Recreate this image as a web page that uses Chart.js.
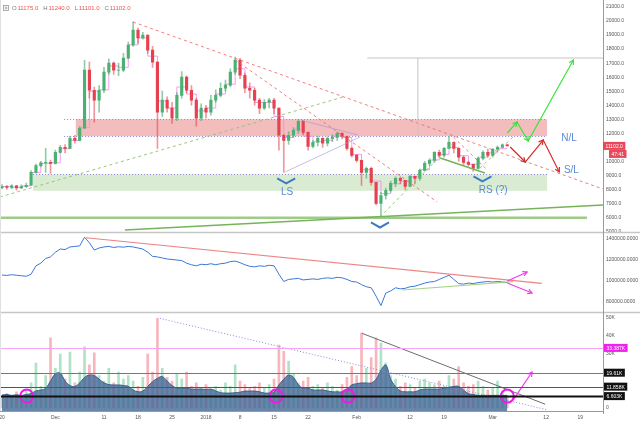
<!DOCTYPE html>
<html>
<head>
<meta charset="utf-8">
<script src="https://cdn.jsdelivr.net/npm/chart.js@4.4.1/dist/chart.umd.min.js"></script>
<style>
  html, body { margin: 0; padding: 0; background: #fff; }
  #wrap { position: relative; width: 640px; height: 422px; }
</style>
</head>
<body>
<div id="wrap"><canvas id="btcChart" width="640" height="422"></canvas></div>
<script>
/* ====== DATA (one candle per day, day 0 = Nov 20 2017) ====== */
const firstOpen = 8100;
const closes = [
  8200, 8150, 8250, 8100, 8200, 8300, 9220, 9700, 9900, 9930,
  9860, 10640, 11000, 10930, 11640, 11500, 12360, 16500, 15070, 14360,
  15070, 16360, 17000, 16500, 16500, 17360, 18290, 19360, 18790, 19000,
  17930, 17070, 13500, 14360, 13790, 13070, 14700, 16000, 15070, 14360,
  13070, 13790, 13500, 14360, 14700, 15210, 15430, 16360, 17210, 16140,
  15210, 15070, 14360, 13790, 14210, 14360, 13790, 11860, 11500, 11860,
  12210, 12860, 12070, 11070, 11360, 11640, 11290, 11640, 11710, 12000,
  11790, 10930, 10430, 10070, 9220, 9500, 8500, 7000, 7570, 7930,
  8430, 8790, 8640, 8210, 8930, 8790, 9360, 9860, 10070, 10640,
  10430, 10930, 11360, 10930, 10290, 9930, 9790, 9500, 10210, 10640,
  10430, 10860, 11000, 11175, 11102
];
const highs = [
  8350, 8300, 8350, 8300, 8320, 8450, 9350, 9800, 10000, 10930,
  10100, 10800, 11150, 11200, 11800, 11850, 12500, 17200, 17070, 15300,
  15400, 16700, 17300, 17100, 17000, 17700, 18500, 19950, 19500, 19200,
  19000, 18200, 17100, 15000, 14600, 14200, 14900, 16400, 16100, 15400,
  14500, 14100, 14000, 14700, 15100, 15600, 15800, 16600, 17430, 17350,
  16300, 15600, 15200, 14500, 14400, 14500, 14500, 13800, 11900, 12100,
  12400, 13000, 12900, 12100, 11500, 11800, 11700, 11750, 11900, 12100,
  12050, 11800, 11000, 10500, 10100, 9600, 9600, 8500, 7800, 8100,
  8600, 8900, 8900, 8650, 9000, 8950, 9450, 10000, 10200, 10700,
  10800, 11000, 11790, 11400, 10950, 10400, 10000, 9800, 10300, 10750,
  10870, 10920, 11100, 11250, 11240
];
const lows = [
  8050, 8000, 8050, 7950, 8050, 8150, 8300, 9150, 9600, 9220,
  9140, 9800, 10600, 10600, 10900, 11300, 11450, 12360, 14500, 12790,
  13500, 14900, 16200, 16200, 16100, 16400, 17300, 18200, 18400, 18700,
  17700, 16700, 10930, 13200, 13500, 12700, 12900, 14500, 14900, 14000,
  12500, 12900, 13100, 13300, 14200, 14600, 15000, 15300, 16200, 15900,
  14900, 14500, 14000, 13400, 13700, 13800, 13400, 10790, 9220, 11200,
  11700, 12000, 11900, 10800, 10950, 11100, 11000, 11100, 11400, 11500,
  11600, 10800, 10300, 9950, 8290, 8800, 8300, 6900, 6000, 7300,
  7800, 8200, 8400, 8000, 8200, 8400, 8650, 9300, 9700, 9900,
  10300, 10300, 10900, 10600, 10000, 9700, 9650, 9290, 9450, 10100,
  10300, 10300, 10800, 10950, 11101
];

// lagging step line (pink) drawn over the candles, every second day
const maDays = [
  0, 2, 4, 6, 8, 10, 12, 14, 16, 18, 20, 22, 24, 26, 28, 30, 32, 34, 36, 38,
  40, 42, 44, 46, 48, 50, 52, 54, 56, 58, 60, 62, 64, 66, 68, 70, 72, 74, 76, 78,
  80, 82, 84, 86, 88, 90, 92, 94, 96, 98, 100, 102, 104
];
const maValues = [
  8150, 8200, 8150, 8250, 9200, 9850, 9900, 10900, 11500, 12400,
  15000, 15100, 16800, 16700, 18300, 18800, 17500, 14300, 13800, 15300,
  14800, 13600, 13800, 14800, 15500, 16600, 15300, 14200, 14200, 13200,
  11700, 12300, 11800, 11400, 11500, 11800, 11700, 10500, 9400, 8600,
  7700, 8400, 8600, 8900, 9400, 10100, 10500, 11000, 10400, 9800,
  10300, 10600, 10900
];

// middle pane indicator, in thousands
const flowK = [
  1052, 1048, 1055, 1050, 1045, 1040, 1060, 1140, 1165, 1210,
  1225, 1270, 1300, 1295, 1320, 1325, 1330, 1413, 1360, 1290,
  1310, 1320, 1325, 1315, 1322, 1318, 1325, 1320, 1310, 1300,
  1270, 1230, 1225, 1215, 1205, 1200, 1195, 1190, 1165, 1150,
  1140, 1155, 1150, 1160, 1150, 1160, 1165, 1180, 1185, 1170,
  1150, 1135, 1130, 1140, 1135, 1145, 1140, 1060, 990, 1010,
  1015, 1020, 1005, 1010, 1015, 1010, 1020, 1025, 1020, 1030,
  1025, 1010, 990, 985, 960, 940, 930, 850, 760, 880,
  900, 930, 920, 925, 940, 945, 960, 975, 985, 990,
  1010, 1030, 1050, 1010, 970, 965, 975, 970, 980, 985,
  990, 985, 990, 985, 980
];

// bottom pane: volume (K) and its smoothed average (K)
const volumes = [
  6, 8, 7, 9, 6, 10, 14, 25, 12, 18,
  39, 22, 30, 16, 31, 14, 20, 34, 24, 30.7,
  18, 15, 22, 14, 20, 16, 18, 15, 12, 17,
  30, 20, 49.8, 22, 17, 15, 19, 16, 20, 12,
  14, 11, 13, 10, 12, 10, 14, 12, 24, 15,
  13, 11, 12, 14, 11, 13, 16, 35, 31.5, 26,
  19, 14, 15, 17, 12, 13, 11, 14, 12, 10,
  13, 17, 23, 18, 41.7, 22, 28, 39, 36, 25,
  18, 16, 12, 14, 13, 11, 15, 16, 14, 13,
  15, 12, 18, 16, 23, 14, 12, 13, 15, 12,
  10, 11, 15, 9, 6
];
const volAvg = [
  7.2, 7.5, 7, 7.3, 7, 7.5, 8, 9.5, 10, 11,
  15, 19, 19.3, 15, 12.5, 12, 14, 17, 18.3, 18,
  16, 14, 13, 12.8, 12.8, 12.5, 12, 10, 9, 9.5,
  12, 14.6, 16.5, 17.4, 15, 12.5, 11, 11, 11, 10.5,
  10.5, 10.5, 10.3, 10.5, 9.5, 8.5, 8.3, 8.3, 8.5, 8.8,
  9.4, 9.4, 9.4, 9, 8.3, 8.3, 8.8, 12.8, 16, 18.3,
  17, 13, 11, 11, 10, 10, 10, 9.5, 9, 9,
  9, 10.5, 12.8, 13.5, 13.9, 13.9, 13.9, 16, 21, 23.9,
  16, 12, 9.5, 9, 9, 9, 10, 10.5, 10.5, 10.5,
  10.5, 11, 11.5, 12, 12, 10, 8, 7.5, 7, 7,
  7, 7, 7, 7, 7
];
const volLevels = [33.387, 19.61, 11.858, 6.603];
const volLevelLabels = ['33.387K', '19.61K', '11.858K', '6.603K'];

const xTickDays = [0, 11, 21, 28, 35, 42, 49, 56, 63, 73, 84, 91, 101, 112, 119];
const xTickLabels = ['20', 'Dec', '11', '18', '25', '2018', '8', '15', '22', 'Feb', '12', '19', 'Mar', '12', '19'];
const priceTicks = [5000, 6000, 7000, 8000, 9000, 10000, 11000, 12000, 13000, 14000, 15000, 16000, 17000, 18000, 19000, 20000, 21000];
const flowTicks = [800, 1000, 1200, 1400];
const volTicks = [0, 30, 40, 50];

const lastBar = { o: 11175.0, h: 11240.0, l: 11101.0, c: 11102.0, countdown: '47:41' };

/* ====== DRAWINGS (day, value) ====== */
const FONT = "'Liberation Sans', Arial, sans-serif";
const STYLES = {
  redDash:   { color: 'rgba(236,104,104,0.85)', width: 1, dash: [3, 3] },
  greenDash: { color: 'rgba(140,195,110,0.9)', width: 1, dash: [3, 3] },
  green:     { color: '#76b35a', width: 1.5 },
  greenBar:  { color: '#9fcb88', width: 2.5 },
  lavender:  { color: 'rgba(165,145,215,0.6)', width: 1 },
  grayThin:  { color: '#c4c4c4', width: 1 },
  zoneDot:   { color: '#8f86d8', width: 1, dash: [1, 2] },
  arrowUp:   { color: '#3ee23e', width: 1.2 },
  arrowDown: { color: '#d72b2b', width: 1.2 },
  flowRed:   { color: 'rgba(232,110,110,0.85)', width: 1.2 },
  flowGreen: { color: 'rgba(160,205,130,0.9)', width: 1.2 },
  magenta:   { color: '#f03cf0', width: 1.2 },
  volDot:    { color: '#8a8ad6', width: 1, dash: [1, 2] },
  volGray:   { color: '#6d6d6d', width: 1 }
};
const priceZones = [
  { from: 15.2, to: 112.2, lo: 11800, hi: 13000, fill: 'rgba(228,108,108,0.45)', dotFrom: 12.8, dotLo: true },
  { from: 6.4, to: 112.2, lo: 7900, hi: 9070, fill: 'rgba(150,198,128,0.35)', dotFrom: 6.4, dotLo: false }
];
const priceLines = [
  { pts: [[27, 19930], [123.7, 8030]], style: 'redDash' },
  { pts: [[48, 17224], [89.6, 7104]], style: 'redDash' },
  { pts: [[92.9, 11736], [99.9, 9384]], style: 'redDash' },
  { pts: [[-0.4, 7460], [70.2, 14587]], style: 'greenDash' },
  { pts: [[77.8, 6035], [92.9, 11308]], style: 'greenDash' },
  { pts: [[98.4, 9527], [105.2, 11736]], style: 'greenDash' },
  { pts: [[90.2, 10239], [99.4, 9170]], style: 'green' },
  { pts: [[58.3, 9242], [73.7, 11736]], style: 'lavender' },
  { pts: [[61.4, 12948], [73.3, 11879]], style: 'lavender' },
  { pts: [[-0.4, 5985], [120.4, 5985]], style: 'greenBar' },
  { pts: [[25.3, 5108], [123.7, 6890]], style: 'green' },
  { pts: [[85.6, 17366], [85.6, 11807]], style: 'grayThin' },
  { pts: [[75.2, 17366], [123.7, 17366]], style: 'grayThin' }
];
const priceArrows = [
  { pts: [[104.0, 12021], [106.0, 12805], [108.3, 11451], [117.6, 17224]], style: 'arrowUp' },
  { pts: [[104.6, 11023], [107.7, 9954], [111.4, 11522], [114.7, 9242]], style: 'arrowDown' }
];
const priceTexts = [
  { text: 'N/L', at: [116.7, 11643] },
  { text: 'S/L', at: [117.2, 9357] },
  { text: 'LS', at: [58.7, 7786] },
  { text: 'RS (?)', at: [101.1, 7929] }
];
const chevrons = [[58.5, 8786], [98.9, 8928], [77.8, 5643]];
const flowLines = [
  { pts: [[17.3, 1408], [111.1, 973]], style: 'flowRed' },
  { pts: [[82.4, 909], [105.2, 988]], style: 'flowGreen' }
];
const flowArrows = [
  { pts: [[104.0, 995], [108.1, 1081]], style: 'magenta' },
  { pts: [[104.0, 976], [109.1, 880]], style: 'magenta' }
];
const volLines = [
  { pts: [[32.5, 49.8], [112.4, -1.1]], style: 'volDot' },
  { pts: [[74.1, 41.5], [111.8, 2.1]], style: 'volGray' }
];
const volArrows = [{ pts: [[105.2, 4.4], [109.1, 20.0]], style: 'magenta' }];
const volCircles = [5.1, 56.4, 71.2, 104.0];

/* ====== HELPERS ====== */
const days = closes.map((_, i) => i);
const opens = closes.map((c, i) => i === 0 ? firstOpen : closes[i - 1]);
const isUp = closes.map((c, i) => c >= opens[i]);

function strokePath(ctx, pts, style) {
  ctx.strokeStyle = style.color;
  ctx.lineWidth = style.width;
  ctx.setLineDash(style.dash || []);
  ctx.beginPath();
  pts.forEach(([px, py], i) => i ? ctx.lineTo(px, py) : ctx.moveTo(px, py));
  ctx.stroke();
}

function arrowHead(ctx, [x0, y0], [x1, y1], size) {
  const ang = Math.atan2(y1 - y0, x1 - x0);
  ctx.setLineDash([]);
  ctx.beginPath();
  ctx.moveTo(x1 - size * Math.cos(ang - 0.5), y1 - size * Math.sin(ang - 0.5));
  ctx.lineTo(x1, y1);
  ctx.lineTo(x1 - size * Math.cos(ang + 0.5), y1 - size * Math.sin(ang + 0.5));
  ctx.stroke();
}

function clipPanel(ctx, area, scale) {
  ctx.beginPath();
  ctx.rect(area.left, scale.top, area.right - area.left, scale.bottom - scale.top);
  ctx.clip();
}

function tag(ctx, x, yc, text, bg) {
  ctx.font = `5px ${FONT}`;
  const w = ctx.measureText(text).width + 5;
  ctx.fillStyle = bg;
  ctx.fillRect(x, yc - 4, w, 8);
  ctx.fillStyle = '#fff';
  ctx.textAlign = 'left';
  ctx.textBaseline = 'middle';
  ctx.fillText(text, x + 2.5, yc + 0.5);
}

/* ====== PLUGIN: zones, trend lines, labels ====== */
const drawings = {
  id: 'drawings',
  beforeDatasetsDraw(chart) {
    const { ctx, chartArea: a, scales: { x, yP } } = chart;
    ctx.save();
    clipPanel(ctx, a, yP);
    priceZones.forEach(z => {
      const x0 = x.getPixelForValue(z.from), x1 = x.getPixelForValue(z.to);
      const y0 = yP.getPixelForValue(z.hi), y1 = yP.getPixelForValue(z.lo);
      ctx.fillStyle = z.fill;
      ctx.fillRect(x0, y0, x1 - x0, y1 - y0);
      const xd = x.getPixelForValue(z.dotFrom);
      strokePath(ctx, [[xd, Math.round(y0) + 0.5], [x1, Math.round(y0) + 0.5]], STYLES.zoneDot);
      if (z.dotLo) strokePath(ctx, [[xd, Math.round(y1) + 0.5], [x1, Math.round(y1) + 0.5]], STYLES.zoneDot);
    });
    ctx.restore();
  },
  afterDatasetsDraw(chart) {
    const { ctx, chartArea: a, scales: { x, yP, yI, yV } } = chart;
    const map = s => ([d, v]) => [x.getPixelForValue(d), s.getPixelForValue(v)];

    const panels = [
      [yP, priceLines, priceArrows],
      [yI, flowLines, flowArrows],
      [yV, volLines, volArrows]
    ];
    panels.forEach(([s, lines, arrows]) => {
      ctx.save();
      clipPanel(ctx, a, s);
      lines.forEach(l => strokePath(ctx, l.pts.map(map(s)), STYLES[l.style]));
      arrows.forEach(ar => {
        const pts = ar.pts.map(map(s));
        strokePath(ctx, pts, STYLES[ar.style]);
        for (let i = 1; i < pts.length; i++) arrowHead(ctx, pts[i - 1], pts[i], 5);
      });
      ctx.restore();
    });

    // chevrons and pattern labels
    ctx.save();
    clipPanel(ctx, a, yP);
    ctx.strokeStyle = '#3b7cc6';
    ctx.lineWidth = 2;
    ctx.setLineDash([]);
    chevrons.forEach(c => {
      const [cx, cy] = map(yP)(c);
      ctx.beginPath();
      ctx.moveTo(cx - 9, cy);
      ctx.lineTo(cx, cy + 5);
      ctx.lineTo(cx + 9, cy);
      ctx.stroke();
    });
    ctx.font = `10px ${FONT}`;
    ctx.fillStyle = '#5b8ad6';
    ctx.textAlign = 'center';
    ctx.textBaseline = 'middle';
    priceTexts.forEach(t => {
      const [tx, ty] = map(yP)(t.at);
      ctx.fillText(t.text, tx, ty);
    });
    ctx.restore();

    // circles on the volume base line
    ctx.save();
    clipPanel(ctx, a, yV);
    ctx.strokeStyle = '#e61ee6';
    ctx.lineWidth = 2;
    volCircles.forEach(d => {
      ctx.beginPath();
      ctx.arc(x.getPixelForValue(d), yV.getPixelForValue(volLevels[3]), 6.5, 0, Math.PI * 2);
      ctx.stroke();
    });
    ctx.restore();
  },
  afterDraw(chart) {
    const { ctx, chartArea: a, scales: { yP, yI, yV } } = chart;
    ctx.save();

    // volume reference levels
    const levelStyles = [
      { color: '#f7a3f7', width: 1 },
      { color: '#777', width: 1 },
      { color: '#555', width: 1.2 },
      { color: '#111', width: 2 }
    ];
    volLevels.forEach((v, i) => {
      const y = Math.round(yV.getPixelForValue(v)) + 0.5;
      strokePath(ctx, [[a.left, y], [a.right, y]], levelStyles[i]);
    });

    // pane separators and frame
    strokePath(ctx, [[0, yP.bottom], [640, yP.bottom]], { color: '#c6c6c6', width: 1.5 });
    strokePath(ctx, [[0, yI.bottom], [640, yI.bottom]], { color: '#c6c6c6', width: 1.5 });
    strokePath(ctx, [[0, a.bottom + 0.5], [a.right, a.bottom + 0.5]], { color: '#9a9a9a', width: 1 });
    strokePath(ctx, [[a.right + 0.5, 0], [a.right + 0.5, a.bottom + 3]], { color: '#9a9a9a', width: 1 });
    strokePath(ctx, [[0.5, 0], [0.5, a.bottom]], { color: '#e0e0e0', width: 1 });

    // price and volume tags on the right axis
    const yLast = yP.getPixelForValue(lastBar.c);
    tag(ctx, a.right, yLast, lastBar.c.toFixed(1), '#e8485a');
    tag(ctx, a.right + 6, yLast + 8, lastBar.countdown, '#e8485a');
    volLevels.forEach((v, i) => {
      tag(ctx, a.right + 1, yV.getPixelForValue(v), volLevelLabels[i], i === 0 ? '#ee22ee' : '#111');
    });

    // OHLC header
    ctx.strokeStyle = '#999';
    ctx.lineWidth = 0.8;
    ctx.strokeRect(3.5, 5.5, 5, 5);
    ctx.beginPath();
    ctx.moveTo(6, 6.5); ctx.lineTo(6, 9.5);
    ctx.moveTo(4.5, 8); ctx.lineTo(7.5, 8);
    ctx.stroke();
    const parts = [
      ['O', '#777'], [lastBar.o.toFixed(1), '#ef5350'],
      ['H', '#777'], [lastBar.h.toFixed(1), '#ef5350'],
      ['L', '#777'], [lastBar.l.toFixed(1), '#ef5350'],
      ['C', '#777'], [lastBar.c.toFixed(1), '#ef5350']
    ];
    ctx.font = `6px ${FONT}`;
    ctx.textAlign = 'left';
    ctx.textBaseline = 'middle';
    let tx = 12;
    parts.forEach(([t, c], i) => {
      ctx.fillStyle = c;
      ctx.fillText(t, tx, 8.5);
      tx += ctx.measureText(t).width + (i % 2 ? 5 : 0.8);
    });
    ctx.restore();
  }
};

/* ====== CHART ====== */
const axisFont = { size: 5, family: FONT };
const noPad = s => { s.paddingLeft = 0; s.paddingRight = 0; s.paddingTop = 0; s.paddingBottom = 0; };
const fixWidth = s => { s.width = 37; noPad(s); };
const useTicks = list => s => { s.ticks = list.map(v => ({ value: v })); };

new Chart(document.getElementById('btcChart'), {
  type: 'bar',
  data: {
    datasets: [
      {
        type: 'bar', yAxisID: 'yP', order: 1, grouped: false, barThickness: 2.5,
        data: days.map(i => ({ x: i, y: [opens[i], closes[i]] })),
        backgroundColor: isUp.map(u => u ? '#4bb072' : '#e5414f')
      },
      {
        type: 'bar', yAxisID: 'yP', order: 2, grouped: false, barThickness: 1,
        data: days.map(i => ({ x: i, y: [lows[i], highs[i]] })),
        backgroundColor: isUp.map(u => u ? 'rgba(69,170,108,0.6)' : 'rgba(226,64,79,0.55)')
      },
      {
        type: 'line', yAxisID: 'yP', order: 3, stepped: 'after',
        data: maDays.map((d, i) => ({ x: d, y: maValues[i] })),
        borderColor: 'rgba(240,140,240,0.85)', borderWidth: 1, pointRadius: 0
      },
      {
        type: 'line', yAxisID: 'yI', order: 4,
        data: days.map(i => ({ x: i, y: flowK[i] })),
        borderColor: '#3b77d8', borderWidth: 1, pointRadius: 0, tension: 0
      },
      {
        type: 'line', yAxisID: 'yV', order: 5,
        data: days.map(i => ({ x: i, y: volAvg[i] })),
        borderColor: '#3a5f88', borderWidth: 1, pointRadius: 0, tension: 0.4,
        fill: 'start', backgroundColor: 'rgba(62,100,148,0.78)'
      },
      {
        type: 'bar', yAxisID: 'yV', order: 6, grouped: false, barThickness: 2,
        data: days.map(i => ({ x: i, y: volumes[i] })),
        backgroundColor: isUp.map(u => u ? 'rgba(80,190,130,0.45)' : 'rgba(240,110,120,0.5)')
      }
    ]
  },
  options: {
    responsive: false,
    animation: false,
    devicePixelRatio: 1,
    layout: { padding: 0 },
    plugins: { legend: { display: false }, tooltip: { enabled: false } },
    scales: {
      x: {
        type: 'linear', position: 'bottom', min: -0.4, max: 123.7, offset: false,
        grid: { display: false, drawTicks: false, offset: false }, border: { display: false },
        afterBuildTicks: useTicks(xTickDays),
        afterFit: s => { s.height = 11; noPad(s); },
        ticks: {
          autoSkip: false, maxRotation: 0, padding: 4, font: axisFont, color: '#555',
          callback: v => xTickLabels[xTickDays.indexOf(v)]
        }
      },
      yP: {
        type: 'linear', position: 'right', stack: 'panes', stackWeight: 232.5,
        min: 4930, max: 21500,
        grid: { display: false, drawTicks: false }, border: { display: false },
        afterBuildTicks: useTicks(priceTicks),
        afterFit: fixWidth,
        ticks: { autoSkip: false, padding: 3, font: axisFont, color: '#555', callback: v => v.toFixed(1) }
      },
      yI: {
        type: 'linear', position: 'right', stack: 'panes', stackWeight: 80,
        min: 694, max: 1458,
        grid: { display: false, drawTicks: false }, border: { display: false },
        afterBuildTicks: useTicks(flowTicks),
        afterFit: fixWidth,
        ticks: { autoSkip: false, padding: 3, font: axisFont, color: '#555', callback: v => (v * 1000).toFixed(4) }
      },
      yV: {
        type: 'linear', position: 'right', stack: 'panes', stackWeight: 98.5,
        min: -1.67, max: 53.06,
        grid: { display: false, drawTicks: false }, border: { display: false },
        afterBuildTicks: useTicks(volTicks),
        afterFit: fixWidth,
        ticks: { autoSkip: false, padding: 3, font: axisFont, color: '#555', callback: v => v === 0 ? '0' : v + 'K' }
      }
    }
  },
  plugins: [drawings]
});
</script>
</body>
</html>
